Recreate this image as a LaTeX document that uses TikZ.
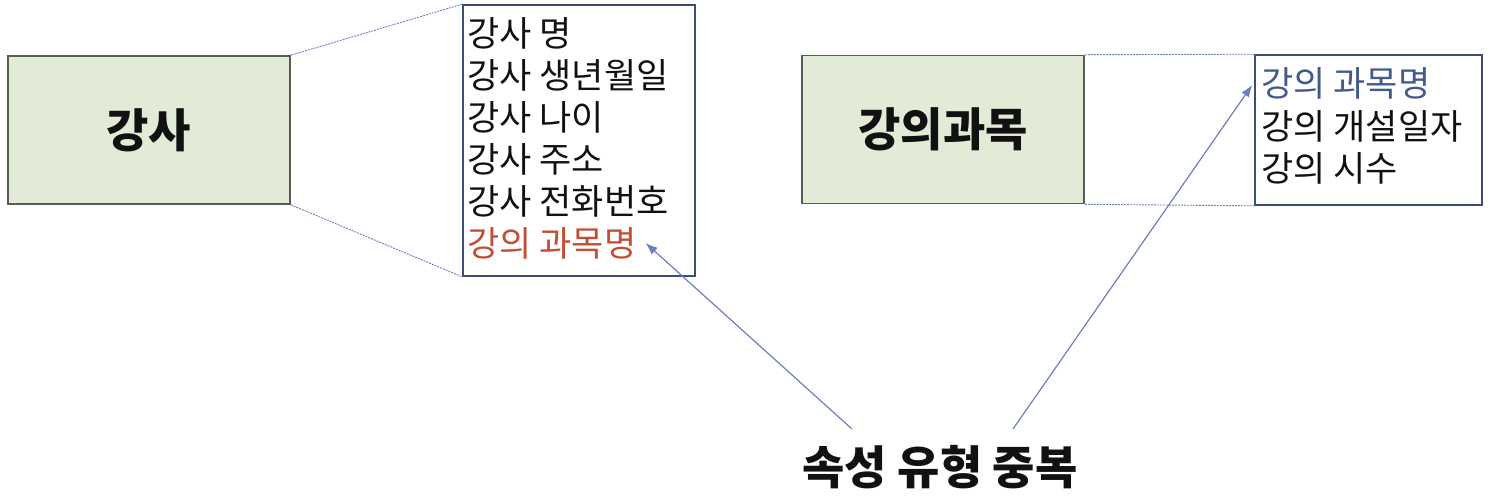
\documentclass[tikz,border=0pt]{standalone}
\usepackage{fontspec}
\setmainfont{Noto Sans CJK KR}
\usetikzlibrary{arrows.meta,calc}
\definecolor{erink}{RGB}{17,17,17}
\definecolor{erfill}{RGB}{226,235,214}
\definecolor{erframe}{RGB}{90,90,90}
\definecolor{erbox}{RGB}{62,76,122}
\definecolor{erblue}{RGB}{68,90,140}
\definecolor{erline}{RGB}{110,126,190}
\definecolor{erred}{RGB}{196,78,52}

\begin{document}
\begin{tikzpicture}[
    x=0.5pt, y=-0.5pt,
    >={Latex[length=6pt,width=4.5pt]},
    % Entity boxes and their attribute lists.
    entity/.style={
        draw=erframe,
        line width=0.8pt,
        fill=erfill,
        minimum width=141pt,
        minimum height=74pt,
        font=\fontsize{23pt}{27pt}\selectfont\bfseries,
        text=erink
    },
    attrbox/.style={
        draw=erbox,
        line width=0.8pt,
        fill=white
    },
    attr/.style={
        anchor=west,
        inner sep=0pt,
        font=\fontsize{17.5pt}{21pt}\selectfont,
        text=erink
    },
    zoomline/.style={draw=erline, line width=0.45pt, dash pattern=on 1pt off 0.5pt},
    arrow/.style={->, draw=erline, line width=0.6pt}
]
    \useasboundingbox (0,0) rectangle (1496,495);

    \node[entity] (teacher) at (149,130) {강사};
    \node[attrbox, minimum width=116pt, minimum height=135.5pt] (attrL) at (579,140.5) {};

    \node[entity] (course) at (943,129.5) {강의과목};
    \node[attrbox, minimum width=113.5pt, minimum height=75pt] (attrR) at (1368.5,130) {};

    \draw[zoomline] (teacher.north east) -- (attrL.north west);
    \draw[zoomline] (teacher.south east) -- (attrL.south west);
    \draw[zoomline] (course.north east) -- (attrR.north west);
    \draw[zoomline] (course.south east) -- (attrR.south west);

    \foreach \t [count=\i] in {강사 명, 강사 생년월일, 강사 나이, 강사 주소, 강사 전화번호} {
        \node[attr] (tl\i) at (467,-9+42*\i) {\t};
    }
    \node[attr, text=erred] (tl6) at (467,243) {강의 과목명};

    \node[attr, text=erblue] (cl1) at (1261,83) {강의 과목명};
    \node[attr] (cl2) at (1261,126) {강의 개설일자};
    \node[attr] (cl3) at (1261,168) {강의 시수};

    \node[font=\fontsize{23pt}{27pt}\selectfont\bfseries, text=erink] (dup) at (940,467)
        {속성 유형 중복};

    \coordinate (dupL) at (852,429);
    \coordinate (dupR) at (1013,429);
    \draw[arrow] (dupL) -- ($(tl6.east)+(9,0)$);
    \draw[arrow] (dupR) -- ($(cl1 -| attrR.west)+(-2,2)$);
\end{tikzpicture}
\end{document}
